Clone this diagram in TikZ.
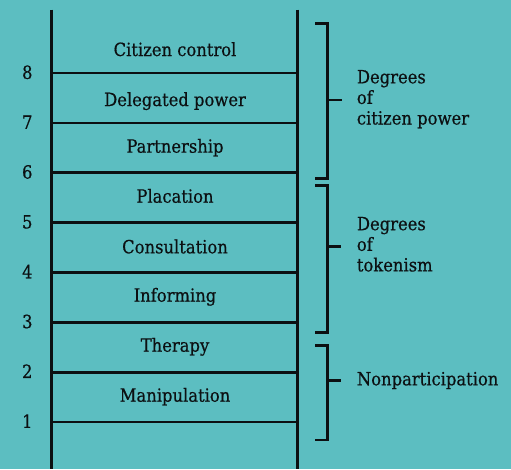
\documentclass[tikz,border=0pt]{standalone}
\usepackage{fontspec}
\setmainfont[FakeBold=0.5]{DejaVu Serif Condensed}
\definecolor{bg}{RGB}{92,190,193}
\definecolor{ink}{RGB}{12,16,18}
\begin{document}
\begin{tikzpicture}[x=1pt,y=-1pt,
  rail/.style={draw=ink,line width=2.7pt},
  bracket/.style={draw=ink,line width=2.6pt,line cap=butt,line join=miter},
  txt/.style={inner sep=0pt,text=ink,font=\fontsize{18.2}{20.6}\selectfont},
  rungtext/.style={txt,anchor=base},
  numtext/.style={txt,anchor=base},
  grouptext/.style={txt,anchor=base west}]
% background and page frame
\fill[bg] (0,0) rectangle (511,469);
\useasboundingbox (0,0) rectangle (511,469);

% ladder rails
\coordinate (lt) at (51.5,9.5);
\coordinate (lb) at (51.5,469);
\coordinate (rt) at (297.8,9.5);
\coordinate (rb) at (297.8,469);
\draw[rail] (lt) -- (lb);
\draw[rail] (rt) -- (rb);

% rungs with their numbers
\foreach \k in {1,...,8}{
  \pgfmathsetmacro\yy{422-49.84*(\k-1)}
  \coordinate (rl\k) at (51.5,\yy);
  \coordinate (rr\k) at (297.8,\yy);
  \draw[rail] (rl\k) -- (rr\k);
  \node[numtext] (num\k) at (27.3,\yy+5.8) {\k};
}

% rung names
\node[rungtext] (citizen)   at (175,56)    {Citizen control};
\node[rungtext] (delegated) at (175,106)   {Delegated power};
\node[rungtext] (partner)   at (175,152.7) {Partnership};
\node[rungtext] (placation) at (175,202.7) {Placation};
\node[rungtext] (consult)   at (175,253.3) {Consultation};
\node[rungtext] (inform)    at (175,301.7) {Informing};
\node[rungtext] (therapy)   at (175,351.7) {Therapy};
\node[rungtext] (manip)     at (175,401.7) {Manipulation};

% group brackets
\draw[bracket] (315,23.3) -| (327.5,178.3) -- (315,178.3);
\draw[bracket] (315,185.3) -| (327.5,332.7) -- (315,332.7);
\draw[bracket] (315,345.3) -| (327.5,440) -- (315,440);

\coordinate (t1) at (327.5,100);
\coordinate (t2) at (327.5,246.7);
\coordinate (t3) at (327.5,380.3);
\draw[bracket] (t1) -- ++(14.5,0);
\draw[bracket] (t2) -- ++(13,0);
\draw[bracket] (t3) -- ++(13,0);

% group names
\node[grouptext] (power) at (356.7,83.3)
  {\begin{tabular}[t]{@{}l@{}}Degrees\\of\\citizen power\end{tabular}};
\node[grouptext] (token) at (356.7,230.2)
  {\begin{tabular}[t]{@{}l@{}}Degrees\\of\\tokenism\end{tabular}};
\node[grouptext] (nonpart) at (356.7,385.3) {Nonparticipation};
\end{tikzpicture}
\end{document}
